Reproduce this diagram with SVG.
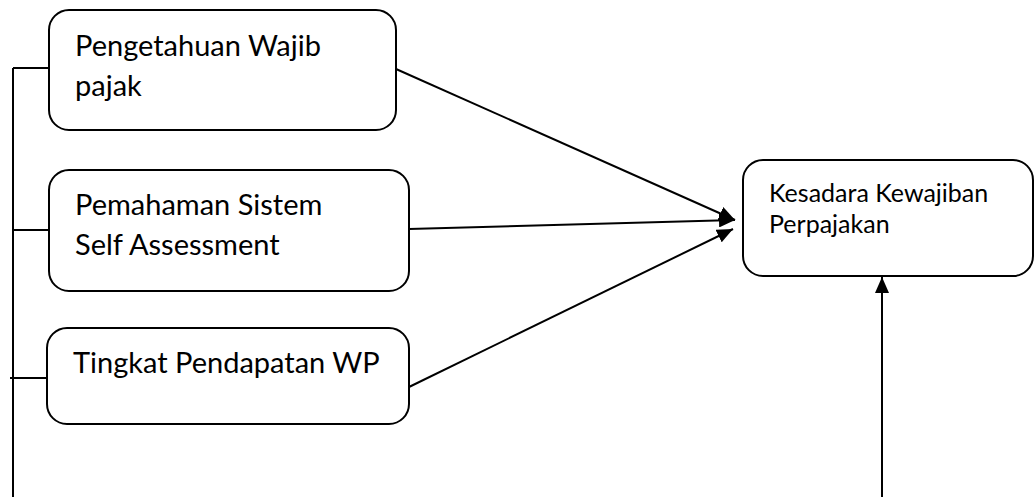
<svg xmlns="http://www.w3.org/2000/svg" width="1035" height="497" viewBox="0 0 1035 497">
  <style>
    .box { fill: #ffffff; stroke: #000000; stroke-width: 2; }
    .lbl { font-family: Lato, "Open Sans", "Liberation Sans", sans-serif; fill: #000000; }
    .big { font-size: 29px; }
    .small { font-size: 25px; }
    .wire { fill: none; stroke: #000000; stroke-width: 2; }
  </style>
  <defs>
    <marker id="head" markerUnits="userSpaceOnUse" markerWidth="18" markerHeight="14" refX="16" refY="7" orient="auto">
      <path d="M0,0 L16,7 L0,14 Z" fill="#000000"/>
    </marker>
  </defs>

  <!-- connectors -->
  <g id="connectors">
    <!-- left bus joining the three inputs -->
    <path class="wire" d="M13,68 L13,497"/>
    <path class="wire" d="M13,68 L49,68"/>
    <path class="wire" d="M13,230 L49,230"/>
    <path class="wire" d="M10,378 L47,378"/>
    <!-- inputs to outcome -->
    <path class="wire" d="M396,69 L735,220" marker-end="url(#head)"/>
    <path class="wire" d="M409,229 L735,220" marker-end="url(#head)"/>
    <path class="wire" d="M409,387 L733,229" marker-end="url(#head)"/>
    <!-- upward link into outcome -->
    <path class="wire" d="M882,497 L882,277" marker-end="url(#head)"/>
  </g>

  <g id="node-pengetahuan">
    <rect class="box" x="49" y="10" width="347" height="120" rx="20" ry="20"/>
    <text class="lbl big" x="75" y="56">Pengetahuan Wajib</text>
    <text class="lbl big" x="75" y="96">pajak</text>
  </g>

  <g id="node-pemahaman">
    <rect class="box" x="49" y="170" width="360" height="121" rx="20" ry="20"/>
    <text class="lbl big" x="75" y="215">Pemahaman Sistem</text>
    <text class="lbl big" x="75" y="255">Self Assessment</text>
  </g>

  <g id="node-pendapatan">
    <rect class="box" x="47" y="328" width="362" height="96" rx="20" ry="20"/>
    <text class="lbl big" x="73" y="373">Tingkat Pendapatan WP</text>
  </g>

  <g id="node-kesadaran">
    <rect class="box" x="743" y="160" width="290" height="116" rx="20" ry="20"/>
    <text class="lbl small" x="769" y="202">Kesadara Kewajiban</text>
    <text class="lbl small" x="769" y="233">Perpajakan</text>
  </g>
</svg>
